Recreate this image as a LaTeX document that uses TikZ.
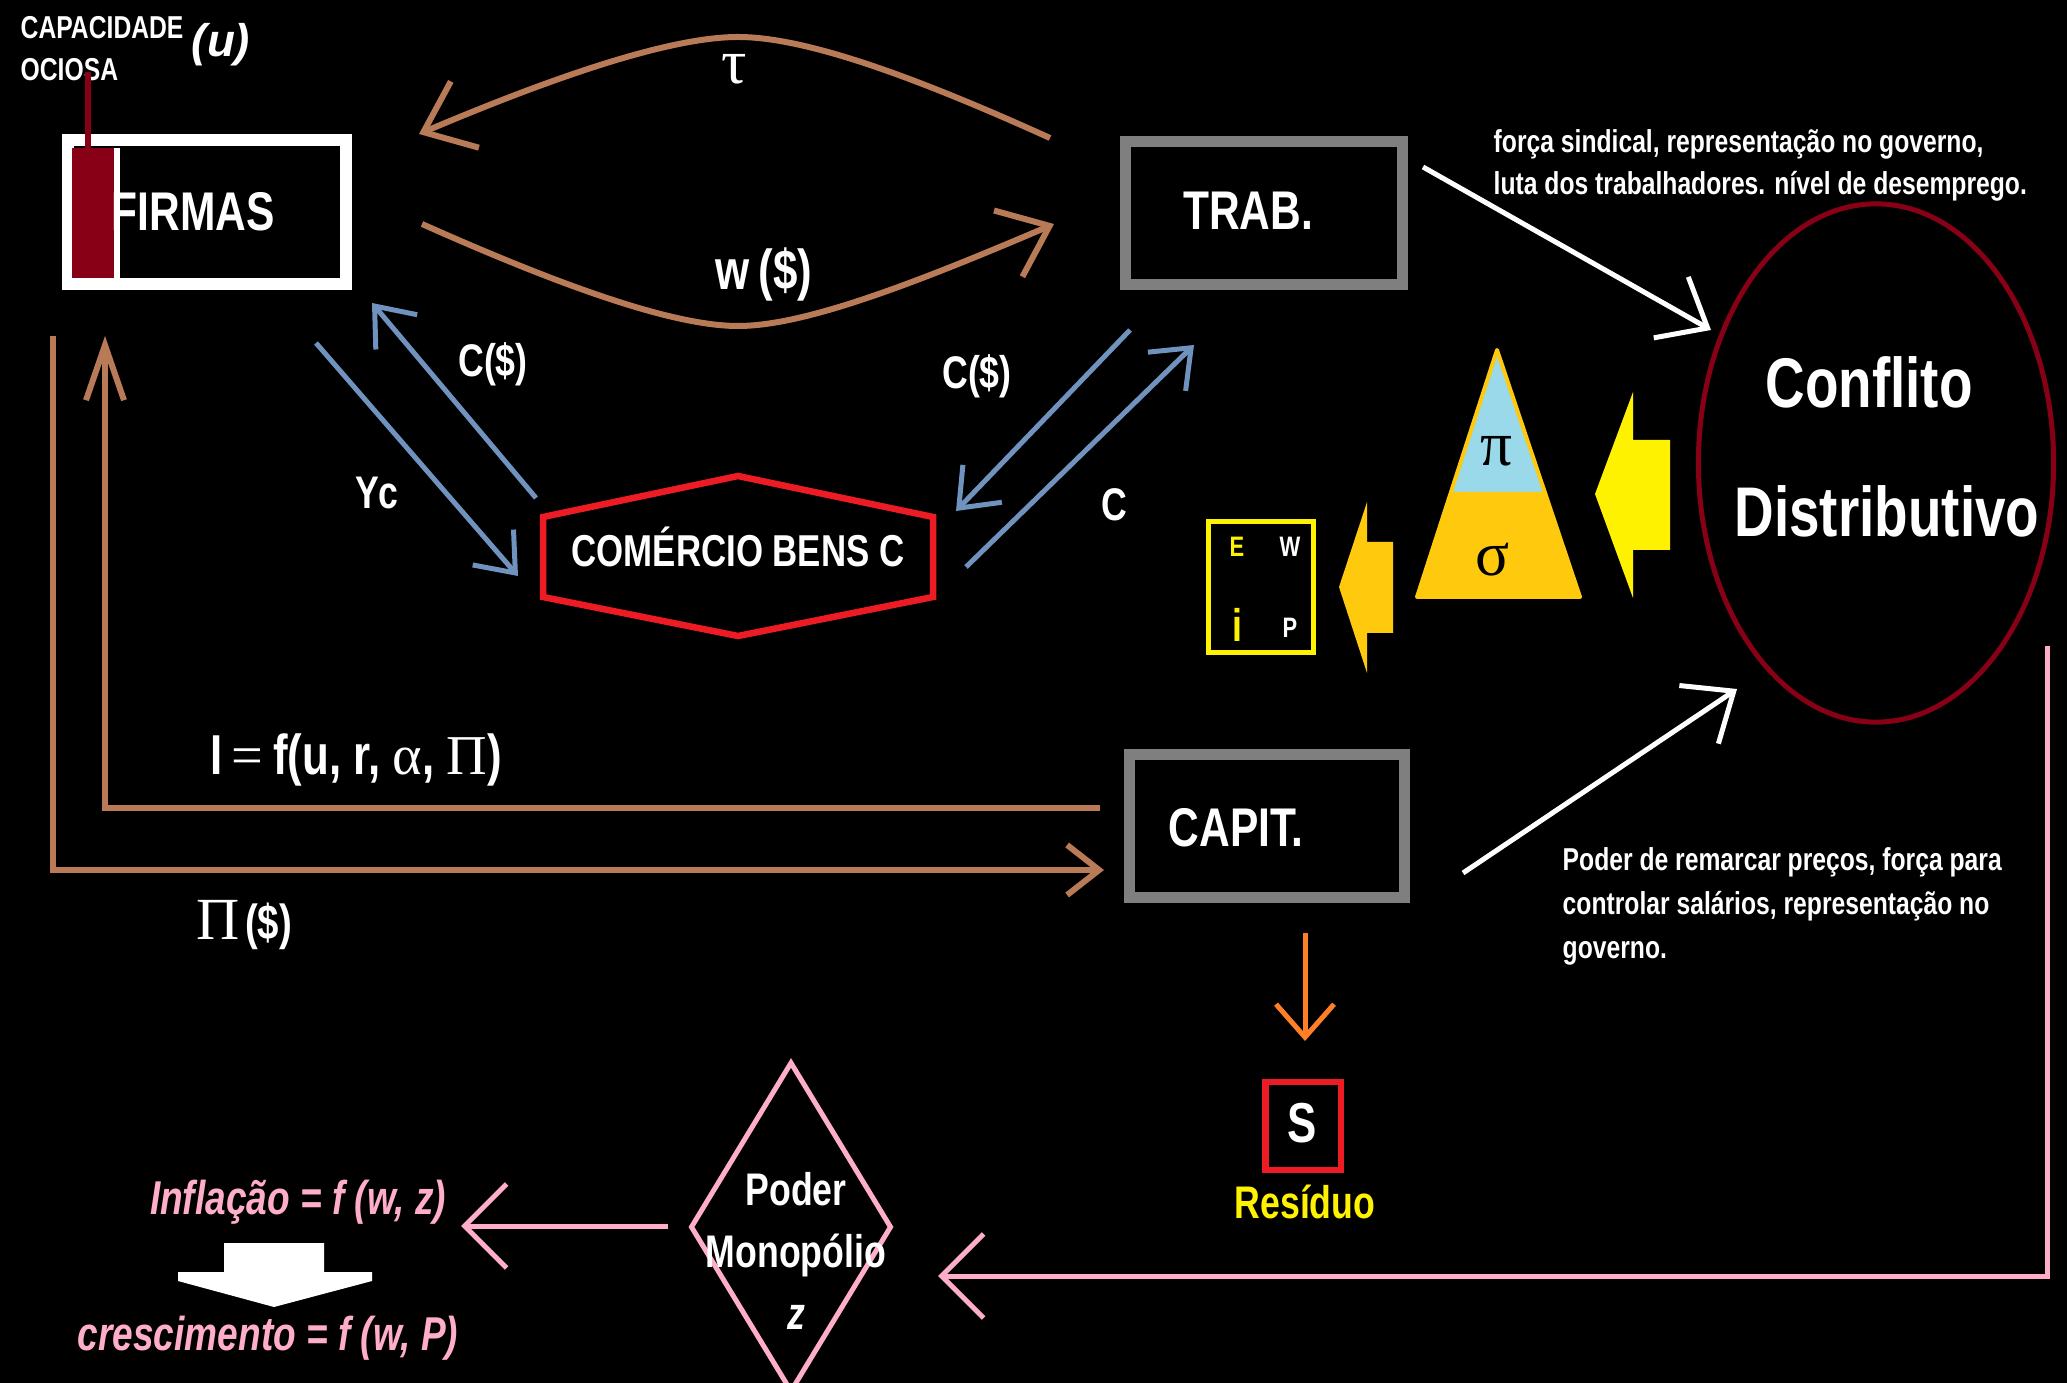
\documentclass[tikz,border=0pt]{standalone}
\usepackage{fontspec}
\setmainfont{Liberation Sans}
\newfontfamily\condfont{Liberation Sans}[FakeStretch=0.78]
\newfontfamily\greekfont{Liberation Serif}
\usetikzlibrary{arrows.meta,shapes.geometric}

\definecolor{brownln}{RGB}{185,122,87}
\definecolor{blueln}{RGB}{112,146,190}
\definecolor{wine}{RGB}{136,0,21}
\definecolor{redln}{RGB}{237,28,36}
\definecolor{greyln}{RGB}{127,127,127}
\definecolor{pinkln}{RGB}{255,174,201}
\definecolor{skyfill}{RGB}{153,217,234}
\definecolor{amber}{RGB}{255,201,14}
\definecolor{lemon}{RGB}{255,242,0}
\definecolor{orangeln}{RGB}{255,127,39}

\tikzset{
  txt/.style={text=white, inner sep=0pt, font=\condfont\bfseries\fontsize{#1}{#1}\selectfont},
  gk/.style={text=white, inner sep=0pt, font=\greekfont\fontsize{#1}{#1}\selectfont},
  frame/.style={draw=#1, inner sep=0pt},
  brownarr/.style={draw=brownln, line width=0.06cm, line join=round,
    -{Straight Barb[length=0.45cm, width=0.72cm, line join=miter]}},
  brownarrs/.style={draw=brownln, line width=0.06cm,
    -{Straight Barb[length=0.32cm, width=0.5cm]}},
  brownarrn/.style={draw=brownln, line width=0.06cm,
    -{Straight Barb[length=0.55cm, width=0.38cm]}},
  bluearr/.style={draw=blueln, line width=0.05cm,
    -{Straight Barb[length=0.34cm, width=0.54cm]}},
  whitearr/.style={draw=white, line width=0.05cm,
    -{Straight Barb[length=0.42cm, width=0.7cm]}},
  pinkarr/.style={draw=pinkln, line width=0.05cm,
    -{Straight Barb[length=0.42cm, width=0.84cm]}},
  orangearr/.style={draw=orangeln, line width=0.05cm,
    -{Straight Barb[length=0.33cm, width=0.58cm]}},
}

\begin{document}
\begin{tikzpicture}[x=0.01cm, y=-0.01cm]
\fill[black] (0,0) rectangle (2067,1383);
\useasboundingbox (0,0) rectangle (2067,1383);

% ---- firms, with the idle-capacity bar
\node[frame=white, line width=0.12cm, minimum width=2.78cm, minimum height=1.44cm] (firmas) at (207,212) {};
\fill[wine] (72,148) rectangle (114,278);
\draw[white, line width=0.06cm] (117,148) -- (117,278);
\node[txt=15.5] (firmaslbl) at (193,212) {FIRMAS};
\node[anchor=base west, align=left, text=white, inner sep=0pt,
      font=\condfont\bfseries\fontsize{9}{12.2}\selectfont] (capac) at (20,81) {CAPACIDADE\\OCIOSA};
\node[text=white, inner sep=0pt, font=\bfseries\itshape\fontsize{13}{13}\selectfont] (uvar) at (221,45) {(u)};
\coordinate (bartop) at (88,148);
\coordinate (captip) at (88,72);
\draw[wine, line width=0.05cm] (bartop) -- (captip);

% ---- workers and capitalists
\node[frame=greyln, line width=0.11cm, minimum width=2.77cm, minimum height=1.43cm] (trab) at (1264,213) {};
\node[txt=15.5] (trablbl) at (1248,211) {TRAB.};
\node[frame=greyln, line width=0.11cm, minimum width=2.75cm, minimum height=1.43cm] (capit) at (1267,826) {};
\node[txt=15.5] (capitlbl) at (1236,828) {CAPIT.};

% ---- goods market
\draw[redln, line width=0.065cm, line join=miter] (543,517) -- (738,476) -- (933,517) -- (933,597) -- (738,636) -- (543,597) -- cycle;
\node[txt=12.7, anchor=base] (comercio) at (738,567) {COMÉRCIO BENS C};

% ---- distributive conflict
\node[frame=wine, line width=0.05cm, ellipse, minimum width=3.55cm, minimum height=5.18cm] (conflito) at (1876,463) {};
\node[txt=20] (conflbl1) at (1869,382) {Conflito};
\node[txt=20] (conflbl2) at (1887,511) {Distributivo};

% ---- wage and tax flows between firms and workers
\coordinate (tauS) at (1050,138);
\coordinate (tauE) at (419,134);
\draw[brownarr] (tauS) .. controls (900,70) and (800,37) .. (738,37) .. controls (676,37) and (570,70) .. (tauE);
\node[gk=18] (taulbl) at (734,69) {τ};
\coordinate (wS) at (422,224);
\coordinate (wE) at (1054,224);
\draw[brownarr] (wS) .. controls (570,290) and (676,326) .. (738,326) .. controls (800,326) and (900,290) .. (wE);
\node[txt=16] (wlbl) at (764,274) {w\,(\$)};

% ---- profits and investment loops
\coordinate (profS) at (53,336);
\coordinate (profE) at (1104,870);
\draw[brownarrs] (profS) |- (profE);
\coordinate (invS) at (1100,808);
\coordinate (invE) at (105,336);
\draw[brownarrn] (invS) -| (invE);
\node[inner sep=0pt, text=white] (invlbl) at (356,760)
  {\condfont\bfseries\fontsize{16}{16}\selectfont I\,{\greekfont\mdseries=}\,f(u, r, {\greekfont\mdseries α}, {\greekfont\mdseries Π})};
\node[inner sep=0pt, text=white] (proflbl) at (244,925)
  {{\greekfont\fontsize{17}{17}\selectfont Π}\,{\condfont\bfseries\fontsize{14}{14}\selectfont(\$)}};

% ---- consumption flows
\coordinate (ycS) at (316,343);
\coordinate (ycE) at (518,576);
\draw[bluearr] (ycS) -- (ycE);
\coordinate (cfS) at (536,498);
\coordinate (cfE) at (372,303);
\draw[bluearr] (cfS) -- (cfE);
\coordinate (ctS) at (1130,330);
\coordinate (ctE) at (956,511);
\draw[bluearr] (ctS) -- (ctE);
\coordinate (cS) at (966,567);
\coordinate (cE) at (1194,345);
\draw[bluearr] (cS) -- (cE);
\node[txt=13] (cfirm) at (493,364) {C(\$)};
\node[txt=13] (yclbl) at (377,493) {Yc};
\node[txt=13] (ctrab) at (977,376) {C(\$)};
\node[txt=13] (clbl) at (1114,505) {C};

% ---- pressures on the conflict
\coordinate (twS) at (1423,167);
\coordinate (twE) at (1711,330);
\draw[whitearr] (twS) -- (twE);
\coordinate (cwS) at (1463,873);
\coordinate (cwE) at (1737,689);
\draw[whitearr] (cwS) -- (cwE);
\node[anchor=base west, align=left, text=white, inner sep=0pt,
      font=\condfont\bfseries\fontsize{9}{12}\selectfont] (trabnote) at (1493,195)
  {força sindical, representação no governo,\\luta dos trabalhadores. nível de desemprego.};
\node[anchor=base west, align=left, text=white, inner sep=0pt,
      font=\condfont\bfseries\fontsize{9}{12.5}\selectfont] (capitnote) at (1562,958)
  {Poder de remarcar preços, força para\\controlar salários, representação no\\governo.};

% ---- distribution triangle and block arrows
\fill[lemon] (1595,494) -- (1633,392) -- (1633,440) -- (1670,440) -- (1670,550) -- (1633,550) -- (1633,598) -- cycle;
\fill[skyfill] (1497,350) -- (1451,492) -- (1545,492) -- cycle;
\fill[amber] (1451,492) -- (1417,597) -- (1580,597) -- (1545,492) -- cycle;
\draw[amber, line width=0.04cm, line join=round] (1497,350) -- (1417,597) -- (1580,597) -- cycle;
\node[gk=18, text=black] (pilbl) at (1496,451) {π};
\node[gk=18, text=black] (sigmalbl) at (1493,560) {σ};
\fill[amber] (1339,587) -- (1367,502) -- (1367,542) -- (1393,542) -- (1393,633) -- (1367,633) -- (1367,673) -- cycle;

% ---- E, W, i, P box
\node[frame=lemon, line width=0.05cm, minimum width=1.04cm, minimum height=1.31cm] (ewip) at (1261,587) {};
\node[txt=8, text=lemon] (elbl) at (1237,547) {E};
\node[txt=8] (wl) at (1290,547) {W};
\node[txt=13, text=lemon] (ilbl) at (1237,625) {i};
\node[txt=8] (plbl) at (1290,628) {P};

% ---- saving residual
\coordinate (sS) at (1305,933);
\coordinate (sE) at (1305,1041);
\draw[orangearr] (sS) -- (sE);
\node[frame=redln, line width=0.06cm, minimum width=0.75cm, minimum height=0.88cm] (sbox) at (1303,1126) {};
\node[txt=16] (slbl) at (1302,1123) {S};
\node[txt=13, text=lemon] (residuo) at (1305,1202) {Resíduo};

% ---- monopoly power
\node[frame=pinkln, line width=0.05cm, diamond, minimum width=2.01cm, minimum height=3.30cm] (monop) at (791,1227) {};
\node[anchor=base, align=center, text=white, inner sep=0pt,
      font=\condfont\bfseries\fontsize{13}{17.5}\selectfont] (monolbl) at (796,1329)
  {Poder\\Monopólio\\\textit{z}};
\coordinate (pinkS) at (2047,646);
\coordinate (pinkE) at (938,1276);
\draw[pinkarr] (pinkS) |- (pinkE);
\coordinate (infS) at (668,1226);
\coordinate (infE) at (461,1226);
\draw[pinkarr] (infS) -- (infE);

% ---- inflation and growth
\node[txt=13, text=pinkln, font=\condfont\bfseries\itshape\fontsize{13.5}{13.5}\selectfont] (inflacao) at (298,1202) {Inflação = f (w, z)};
\fill[white] (224,1243) -- (324,1243) -- (324,1272) -- (372,1272) -- (372,1281) -- (274,1307) -- (178,1281) -- (178,1272) -- (224,1272) -- cycle;
\node[txt=13, text=pinkln, font=\condfont\bfseries\itshape\fontsize{13.5}{13.5}\selectfont] (crescimento) at (268,1338) {crescimento = f (w, P)};
\end{tikzpicture}
\end{document}
